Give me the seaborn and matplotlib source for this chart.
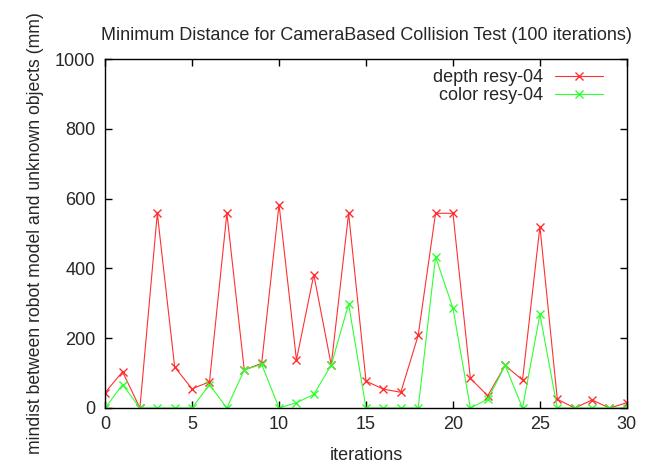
import pandas as pd
import matplotlib
matplotlib.use('Agg')
import matplotlib.pyplot as plt
import seaborn as sns

iterations = list(range(31))
depth = [44, 104, 0, 558, 117, 55, 75, 558, 109, 128, 583, 138, 382, 123, 558, 77,
         54, 45, 208, 558, 558, 85, 35, 122, 80, 520, 25, 0, 23, 0, 15]
color = [0, 67, 0, 0, 0, 0, 67, 0, 109, 125, 0, 15, 39, 123, 298, 0,
         0, 0, 0, 433, 286, 0, 25, 122, 0, 268, 0, 0, 0, 0, 0]

df = pd.DataFrame({'iteration': iterations, 'depth': depth, 'color': color})

sns.set_style('ticks')
plt.rcParams['font.family'] = ['Liberation Sans', 'DejaVu Sans']
fs = 13

fig = plt.figure(figsize=(6.53, 4.65), dpi=100)
ax = fig.add_axes([0.161, 0.1226, 0.799, 0.7504])

#depth / color series
sns.lineplot(data=df, x='iteration', y='depth', ax=ax, color='#ff3030', marker='x',
             markersize=5.5, markeredgewidth=1.0, markeredgecolor='#ff3030',
             linewidth=0.8, label='depth resy-04')
sns.lineplot(data=df, x='iteration', y='color', ax=ax, color='#30ff30', marker='x',
             markersize=5.5, markeredgewidth=1.0, markeredgecolor='#30ff30',
             linewidth=0.8, label='color resy-04')

ax.set_xlim(0, 30)
ax.set_ylim(0, 1000)
ax.set_xticks(range(0, 31, 5))
ax.set_yticks(range(0, 1001, 200))
ax.tick_params(direction='in', top=True, right=True, length=5, width=1,
               labelsize=fs, color='black')
ax.tick_params(axis='y', pad=7)
ax.tick_params(axis='x', pad=6)
for sp in ax.spines.values():
    sp.set_visible(True)
    sp.set_linewidth(1)
    sp.set_color('black')

ax.set_title('Minimum Distance for CameraBased Collision Test (100 iterations)',
             fontsize=fs, pad=14)
ax.set_xlabel('iterations', fontsize=fs, labelpad=10)
ax.set_ylabel('mindist between robot model and unknown objects (mm)', fontsize=12.7, labelpad=8)

handles, labels = ax.get_legend_handles_labels()
ax.legend(handles, labels, loc='upper right', bbox_to_anchor=(0.969, 0.991),
          markerfirst=False, frameon=False, fontsize=fs, handlelength=2.7,
          handletextpad=0.66, labelspacing=0.05, borderaxespad=0)

fig.savefig('out.png', dpi=100)
